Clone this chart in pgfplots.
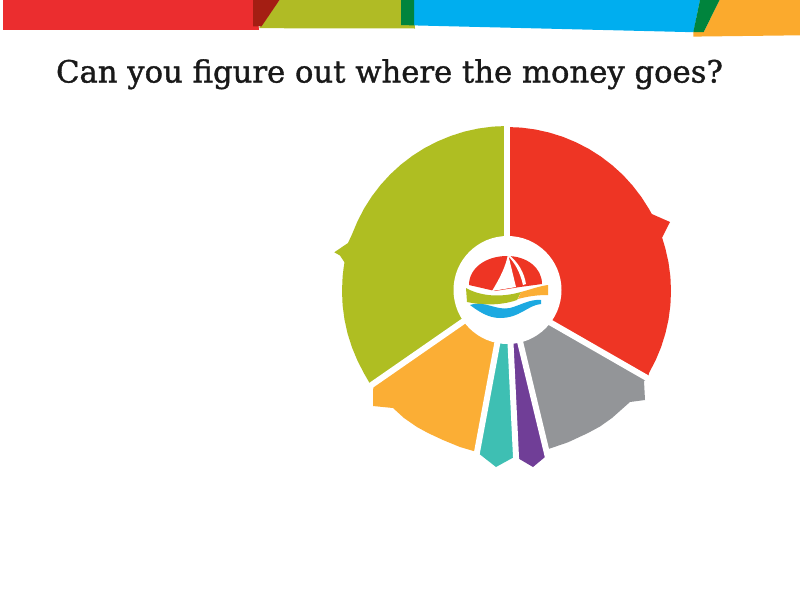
\documentclass[border=0pt]{standalone}
\usepackage{pgfplots}
\pgfplotsset{compat=1.18}
\usepackage{fontspec}
\setmainfont{DejaVu Serif}[FakeBold=1.2]

\definecolor{pRed}{HTML}{EE3524}
\definecolor{pGreen}{HTML}{AFBE22}
\definecolor{pGray}{HTML}{939598}
\definecolor{pOrange}{HTML}{FBAE35}
\definecolor{pTeal}{HTML}{3EBFB3}
\definecolor{pPurple}{HTML}{703E97}
\definecolor{bRed}{HTML}{EB2D2F}
\definecolor{bDarkRed}{HTML}{A41E13}
\definecolor{bGreen}{HTML}{B0BB25}
\definecolor{bDarkGreen}{HTML}{00843D}
\definecolor{bBlue}{HTML}{00AEEF}
\definecolor{bOrange}{HTML}{FBAA2D}
\definecolor{lBlue}{HTML}{1CA9E1}

\begin{document}
\begin{tikzpicture}
\begin{axis}[scale only axis, width=600pt, height=450pt,
  xmin=0, xmax=800, ymin=0, ymax=600, y dir=reverse, hide axis]

  \fill[white] (0,0) rectangle (800,600);

  % top colour band
  \addplot[fill=bRed, draw=none] coordinates {(3,0) (256,0) (259,29.8) (3,29.8)};
  \addplot[fill=bGreen, draw=none] coordinates {(279.5,0) (414,0) (415,28.5) (259,28.2)};
  \addplot[fill=bDarkRed, draw=none] coordinates {(253,0) (279.5,0) (261.5,26.4) (253,26.4)};
  \addplot[fill=bBlue, draw=none] coordinates {(414,0) (700,0) (693.5,32.2) (414,25.4)};
  \addplot[fill=bDarkGreen, draw=none] coordinates {(401,0) (414,0) (414,25.4) (401,25)};
  \addplot[fill=bOrange, draw=none] coordinates {(719.5,0) (800,0) (800,35.3) (693.3,36.6) (693.3,32.2) (703.6,32.2)};
  \addplot[fill=bDarkGreen, draw=none] coordinates {(700,0) (719.5,0) (703.6,32.2) (693.3,32.2)};

  \node[anchor=base, font=\fontsize{23}{27}\selectfont, text=black!90] at (389.5,82.5)
    {Can you figure out where the money goes?};

  % slices (outer edges, pixel units)
  \addplot[fill=pRed, draw=none] coordinates {
    (507,291) (507,127) (521.3,127.6) (535.5,129.5) (549.4,132.6) (563.1,136.9)
    (576.3,142.4) (589,149) (601.1,156.7) (612.4,165.4) (623,175) (632.6,185.6)
    (641.3,196.9) (649,209) (651.8,214) (670,222) (662.1,237.6) (665.4,248.6)
    (668.5,262.5) (670.4,276.7) (671,291) (670.4,305.3) (668.5,319.5)
    (665.4,333.4) (661.1,347.1) (655.6,360.3) (649,373) (648,378.6) (507,297.6)};
  \addplot[fill=pGray, draw=none] coordinates {
    (507,297.6) (648,378.6) (644,381) (645,400) (630,402) (612,418) (600,426.5)
    (588,433) (568,442.3) (547,449.5) (507.8,291)};
  \addplot[fill=pPurple, draw=none] coordinates {
    (507.8,291) (547.4,455) (533,467) (516,457) (508,291)};
  \addplot[fill=pTeal, draw=none] coordinates {
    (508,291) (516,456) (496,467) (477.5,452.5) (507,291)};
  \addplot[fill=pOrange, draw=none] coordinates {
    (507,291) (477,452) (460,447) (443,440) (428,433) (417,427) (404,418)
    (393,408) (373,406) (373,393) (373.5,384.5)};
  \addplot[fill=pGreen, draw=none] coordinates {
    (507,291) (371,385.5) (364.1,373.5) (357.5,360.7) (352,347.4) (347.6,333.7)
    (344.5,319.6) (342.6,305.4) (342,291) (342.6,276.6) (343.6,268) (344.5,262.4)
    (340,255.5) (334.3,252.3) (348,243) (351.9,234.6) (357.5,221.3) (364.1,208.5)
    (371.8,196.4) (380.6,184.9) (390.3,174.3) (400.9,164.6) (412.4,155.8)
    (424.5,148.1) (437.3,141.5) (450.6,136) (464.3,131.6) (478.4,128.5)
    (492.6,126.6) (507,126)};

  % white gaps between slices
  \addplot[draw=white, line width=4.5pt] coordinates {(507,291) (507,105)};
  \addplot[draw=white, line width=4.5pt] coordinates {(507,297.6) (662,386.6)};
  \addplot[draw=white, line width=4.5pt] coordinates {(507.8,291) (551,470)};
  \addplot[draw=white, line width=4.5pt] coordinates {(508,291) (517,478)};
  \addplot[draw=white, line width=4.5pt] coordinates {(507,291) (473.5,471)};
  \addplot[draw=white, line width=4.5pt] coordinates {(507,291) (358,394.4)};

  % centre disc and logo
  \fill[white] (507.5,290) circle[radius=54];
  \fill[pRed] (469,285) .. controls (469,268) and (486,256) .. (507,256)
     .. controls (527,256) and (542,268) .. (542,284) -- (520,287) -- (495,291) -- cycle;
  \fill[white] (508,254) -- (516,287) -- (492,291) .. controls (500,278) and (506,266) .. cycle;
  \fill[white] (508,254) .. controls (518,262) and (524,272) .. (526,284) -- (523,285)
     .. controls (520,272) and (515,263) .. (508,256) -- cycle;
  \fill[pGreen] (466,288) .. controls (480,296) and (500,298) .. (521,292) -- (517,300)
     .. controls (500,306) and (480,305) .. (467,302) -- cycle;
  \fill[pOrange] (521,292) .. controls (532,289) and (540,286) .. (548,285) -- (548,295)
     .. controls (538,295) and (529,296) .. (518,299) -- cycle;
  \fill[lBlue] (470,305) .. controls (485,300) and (496,311) .. (510,308)
     .. controls (521,305) and (530,299) .. (541,300) -- (541,304)
     .. controls (528,305) and (520,318) .. (500,318)
     .. controls (488,318) and (478,311) .. (470,305) -- cycle;
\end{axis}
\end{tikzpicture}
\end{document}
